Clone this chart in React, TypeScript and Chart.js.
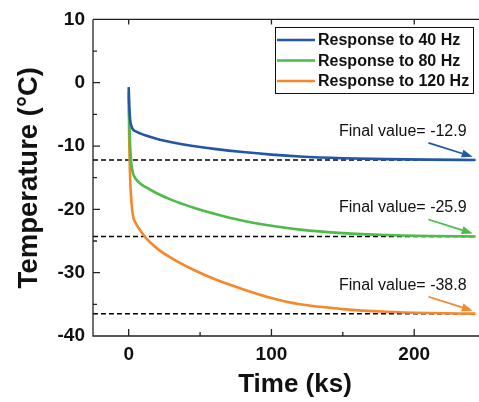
import { useEffect, useRef } from "react";
import { Chart, registerables } from "chart.js";
Chart.register(...registerables);

const timeKs = [0, 0.3, 1, 2, 3, 5, 8, 12, 20, 30, 45, 60, 80, 100, 120, 150, 180, 210, 243];
const resp40 = [-0.7, -3, -5.8, -6.9, -7.4, -7.7, -8.0, -8.35, -8.9, -9.4, -10.0, -10.45, -10.95, -11.35, -11.65, -11.92, -12.07, -12.15, -12.2];
const resp80 = [-1.4, -5, -10, -13, -14.3, -15.2, -15.9, -16.5, -17.5, -18.5, -19.7, -20.7, -21.8, -22.6, -23.2, -23.75, -24.05, -24.2, -24.28];
const resp120 = [-2, -8, -15, -19, -21, -22.2, -23.3, -24.5, -26.2, -27.7, -29.5, -31.0, -32.6, -34.0, -35.0, -35.75, -36.17, -36.37, -36.47];
const seriesLabels = ["Response to 40 Hz", "Response to 80 Hz", "Response to 120 Hz"];
const seriesColors = ["#2356A6", "#4DBB48", "#F7872B"];
const finalLevels = [-12.2, -24.3, -36.5];
const finalLabels = ["Final value= -12.9", "Final value= -25.9", "Final value= -38.8"];
const dashedRange = [-25, 243.5];
const xTicks = [0, 100, 200];
const xMinorTicks = [50, 150];
const yTicks = [-40, -30, -20, -10, 0, 10];
const yMinorTicks = [-35, -25, -15, -5, 5];
const labelX = 192;
const labelRise = 4.5;
const arrowFrom = [210, 2.7];
const arrowTo = [241, 0.5];

const framePlugin = {
  id: "frame",
  afterDraw(chart: any) {
    const { ctx, chartArea: a, scales } = chart;
    const xs = scales.x, ys = scales.y;
    ctx.save();
    ctx.strokeStyle = "#222";
    ctx.lineWidth = 1.3;
    ctx.beginPath();
    ctx.moveTo(a.left, a.top);
    ctx.lineTo(a.left, a.bottom);
    ctx.lineTo(a.right, a.bottom);
    ctx.moveTo(a.left, a.top);
    ctx.lineTo(a.right, a.top);
    for (const v of xTicks) {
      const p = xs.getPixelForValue(v);
      ctx.moveTo(p, a.bottom); ctx.lineTo(p, a.bottom - 7);
      ctx.moveTo(p, a.top); ctx.lineTo(p, a.top + 5);
    }
    for (const v of xMinorTicks) {
      const p = xs.getPixelForValue(v);
      ctx.moveTo(p, a.bottom); ctx.lineTo(p, a.bottom - 4);
    }
    for (const v of yTicks) {
      const p = ys.getPixelForValue(v);
      ctx.moveTo(a.left, p); ctx.lineTo(a.left + 7, p);
    }
    for (const v of yMinorTicks) {
      const p = ys.getPixelForValue(v);
      ctx.moveTo(a.left, p); ctx.lineTo(a.left + 4, p);
    }
    ctx.stroke();

    // annotations
    ctx.font = "16px 'Liberation Sans', Arial, sans-serif";
    ctx.textAlign = "center";
    ctx.textBaseline = "middle";
    finalLevels.forEach((lv, i) => {
      ctx.fillStyle = "#111";
      ctx.fillText(finalLabels[i], xs.getPixelForValue(labelX), ys.getPixelForValue(lv + labelRise));
      const x1 = xs.getPixelForValue(arrowFrom[0]), y1 = ys.getPixelForValue(lv + arrowFrom[1]);
      const x2 = xs.getPixelForValue(arrowTo[0]), y2 = ys.getPixelForValue(lv + arrowTo[1]);
      const ang = Math.atan2(y2 - y1, x2 - x1);
      const hl = 11, hw = 4;
      const bx = x2 - hl * Math.cos(ang), by = y2 - hl * Math.sin(ang);
      ctx.strokeStyle = seriesColors[i];
      ctx.fillStyle = seriesColors[i];
      ctx.lineWidth = 1.8;
      ctx.beginPath();
      ctx.moveTo(x1, y1);
      ctx.lineTo(bx, by);
      ctx.stroke();
      ctx.beginPath();
      ctx.moveTo(x2, y2);
      ctx.lineTo(bx + hw * Math.sin(ang), by - hw * Math.cos(ang));
      ctx.lineTo(bx - hw * Math.sin(ang), by + hw * Math.cos(ang));
      ctx.closePath();
      ctx.fill();
    });

    // legend
    const lx = 275, ly = 27, lw = 198, lh = 66;
    ctx.strokeStyle = "#111";
    ctx.lineWidth = 1;
    ctx.fillStyle = "#fff";
    ctx.fillRect(lx, ly, lw, lh);
    ctx.strokeRect(lx + 0.5, ly + 0.5, lw, lh);
    ctx.font = "bold 16px 'Liberation Sans', Arial, sans-serif";
    ctx.textAlign = "left";
    seriesLabels.forEach((s, i) => {
      const yy = ly + 13 + i * 20.5;
      ctx.strokeStyle = seriesColors[i];
      ctx.lineWidth = 2.5;
      ctx.beginPath();
      ctx.moveTo(lx + 2, yy);
      ctx.lineTo(lx + 40, yy);
      ctx.stroke();
      ctx.fillStyle = "#111";
      ctx.fillText(s, lx + 43, yy + 1);
    });
    ctx.restore();
  },
};

export default function App() {
  const ref = useRef<HTMLCanvasElement>(null);
  useEffect(() => {
    const series = [resp40, resp80, resp120];
    const datasets: any[] = series.map((vals, i) => ({
      label: seriesLabels[i],
      data: timeKs.map((t, j) => ({ x: t, y: vals[j] })),
      borderColor: seriesColors[i],
      borderWidth: 2.6,
      pointRadius: 0,
      cubicInterpolationMode: "monotone",
      fill: false,
    }));
    finalLevels.forEach((lv) => {
      datasets.push({
        label: "final",
        data: dashedRange.map((x) => ({ x, y: lv })),
        borderColor: "#000",
        borderWidth: 1.5,
        borderDash: [5, 3],
        pointRadius: 0,
        fill: false,
      });
    });
    const tickFont = { family: "'Liberation Sans', Arial, sans-serif", size: 19, weight: "bold" as const };
    const titleFont = { family: "'Liberation Sans', Arial, sans-serif", size: 26, weight: "bold" as const };
    const yTitleFont = { family: "'Liberation Sans', Arial, sans-serif", size: 27.5, weight: "bold" as const };
    const chart = new Chart(ref.current!, {
      type: "line",
      data: { datasets },
      plugins: [framePlugin],
      options: {
        animation: false,
        responsive: false,
        layout: { padding: { top: 16, right: 3, left: 0, bottom: 0 } },
        plugins: { legend: { display: false }, tooltip: { enabled: false } },
        scales: {
          x: {
            type: "linear",
            min: -25,
            max: 258,
            afterBuildTicks: (s: any) => { s.ticks = xTicks.map((v) => ({ value: v })); },
            afterFit: (s: any) => { s.height = 66; },
            grid: { display: false, drawTicks: false },
            border: { display: false },
            ticks: { font: tickFont, color: "#111", padding: 7 },
            title: { display: true, text: "Time (ks)", font: titleFont, color: "#111", padding: { top: 0, bottom: 2 } },
          },
          y: {
            type: "linear",
            min: -40,
            max: 10,
            afterBuildTicks: (s: any) => { s.ticks = yTicks.map((v) => ({ value: v })); },
            afterFit: (s: any) => { s.width = 93; },
            grid: { display: false, drawTicks: false },
            border: { display: false },
            ticks: { font: tickFont, color: "#111", padding: 8 },
            title: { display: true, text: "Temperature (°C)", font: yTitleFont, color: "#111", padding: { top: 13, bottom: 0 } },
          },
        },
      },
    });
    return () => chart.destroy();
  }, []);
  return (
    <div style={{ position: "fixed", left: 0, top: 0, width: 479, height: 402, overflow: "hidden", background: "#fff" }}>
      <canvas ref={ref} width={500} height={402} style={{ width: 500, height: 402, display: "block" }} />
    </div>
  );
}
